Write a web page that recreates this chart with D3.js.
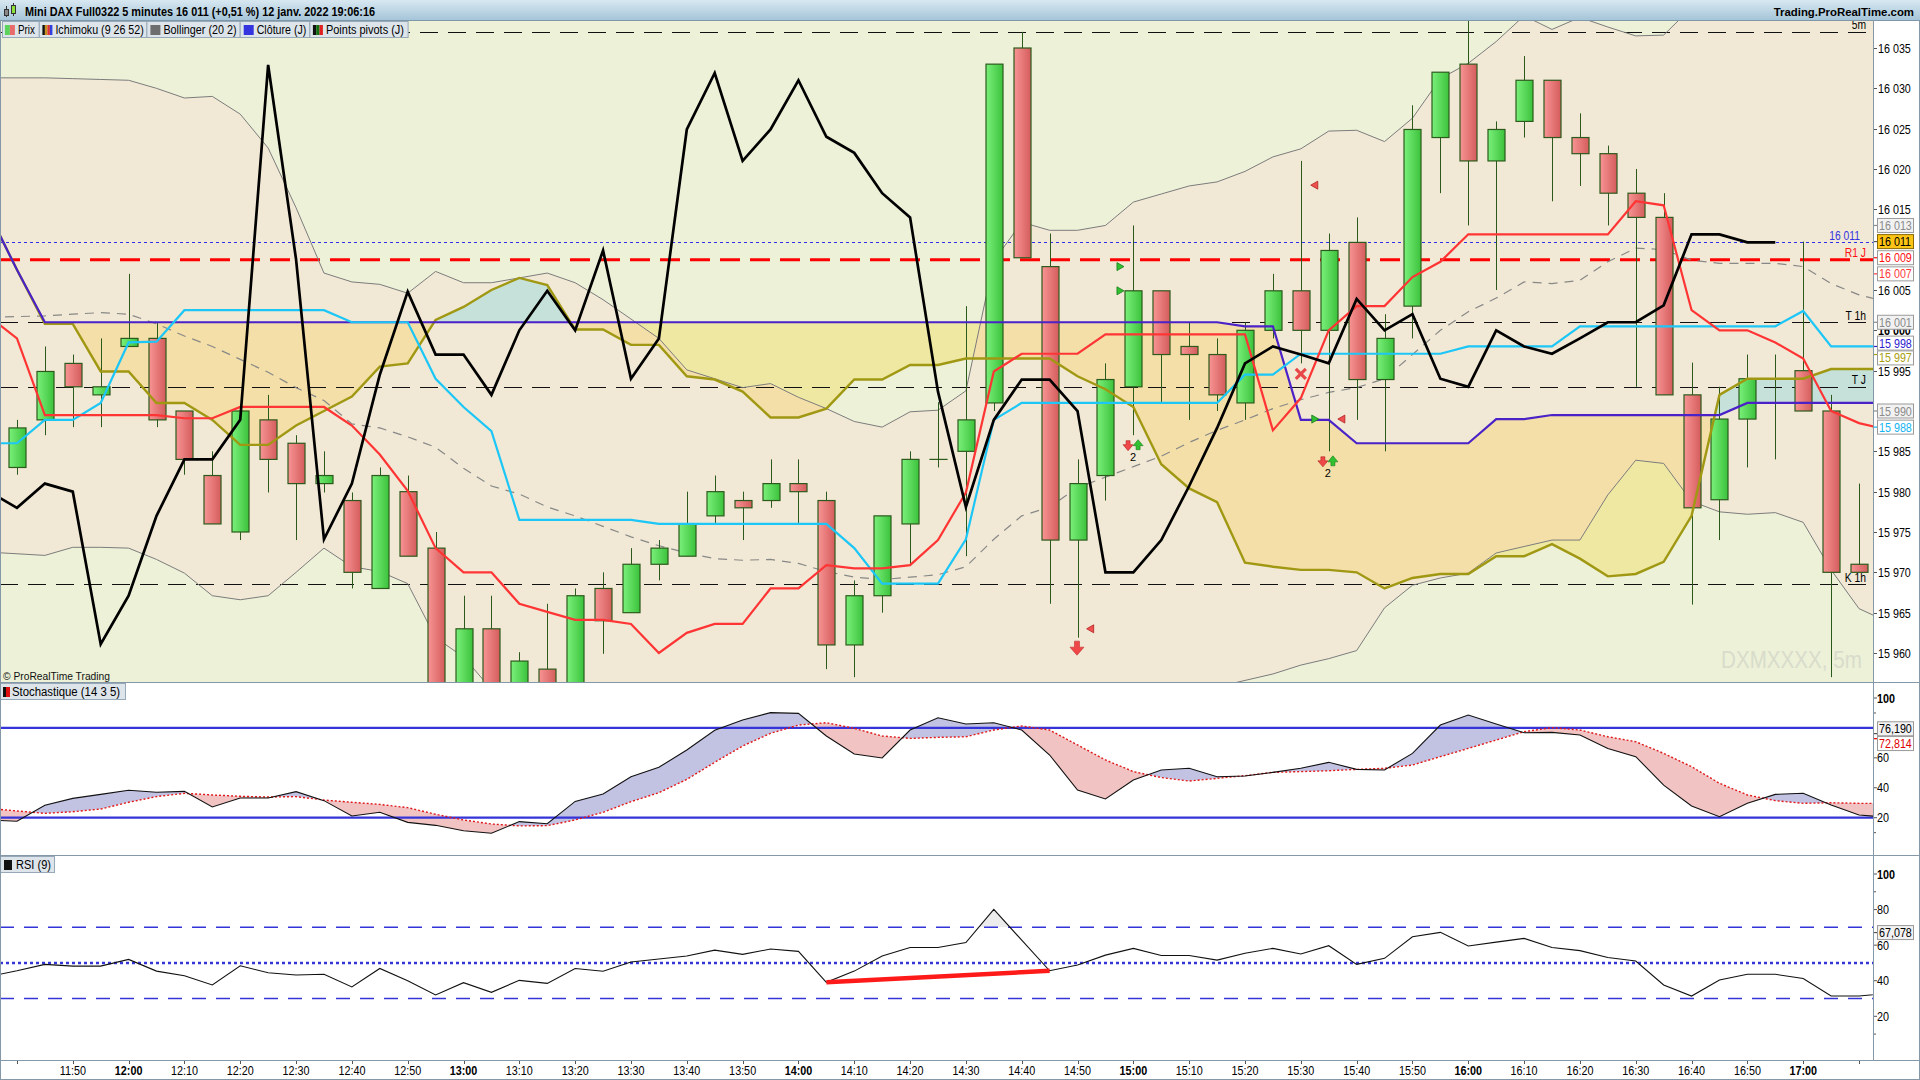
<!DOCTYPE html>
<html><head><meta charset="utf-8">
<script src="https://cdn.jsdelivr.net/npm/d3@7/dist/d3.min.js"></script>
<style>html,body{margin:0;padding:0;background:#fff;overflow:hidden}svg{display:block;font-family:"Liberation Sans",Arial,sans-serif}</style>
</head><body><svg id="chart" width="1920" height="1080"></svg>
<script>
// ---------------- DATA ----------------
const times = ["11:35","11:40","11:45","11:50","11:55","12:00","12:05","12:10","12:15","12:20","12:25","12:30","12:35","12:40","12:45","12:50","12:55",
"13:00","13:05","13:10","13:15","13:20","13:25","13:30","13:35","13:40","13:45","13:50","13:55","14:00","14:05","14:10","14:15","14:20","14:25","14:30","14:35","14:40","14:45","14:50","14:55",
"15:00","15:05","15:10","15:15","15:20","15:25","15:30","15:35","15:40","15:45","15:50","15:55","16:00","16:05","16:10","16:15","16:20","16:25","16:30","16:35","16:40","16:45","16:50","16:55",
"17:00","17:05","17:10","17:15"];
const tickLabels = ["11:50","12:00","12:10","12:20","12:30","12:40","12:50","13:00","13:10","13:20","13:30","13:40","13:50","14:00","14:10","14:20","14:30","14:40","14:50",
"15:00","15:10","15:20","15:30","15:40","15:50","16:00","16:10","16:20","16:30","16:40","16:50","17:00"];

const open = [null,15983.0,15988.9,15995.9,15992.0,15998.0,15999.0,15990.0,15982.0,15975.0,15988.9,15986.0,15981.0,15978.9,15968.0,15980.0,15973.0,
15948.0,15963.0,15952.0,15958.0,15953.0,15968.0,15965.0,15971.0,15972.0,15977.0,15978.9,15978.9,15981.0,15978.9,15961.0,15967.1,15976.0,15984.0,15985.0,15991.0,16035.0,16007.9,15974.0,15982.0,
15993.0,16004.9,15998.0,15997.0,15991.0,16000.0,16004.9,16000.0,16010.9,15993.9,16003.0,16023.9,16033.0,16021.0,16025.9,16031.0,16023.9,16021.9,16017.0,16014.0,15992.0,15979.0,15989.0,15994.0,
15995.0,15990.0,15971.0,null];
const high = [null,15988.9,15998.0,15997.0,15999.0,16007.0,16000.9,15990.0,15985.0,15990.0,15992.0,15987.0,15985.0,15979.9,15983.0,15982.0,15975.0,
15967.1,15967.1,15960.1,15966.1,15968.0,15970.0,15973.0,15974.0,15980.0,15982.0,15980.0,15984.0,15984.0,15980.0,15969.0,15977.0,15985.0,15991.1,16003.0,16033.0,16037.0,16012.0,15984.0,15995.9,
16013.0,16004.9,16001.0,15999.0,16001.0,16007.0,16021.0,16012.0,16014.0,16002.0,16027.9,16032.0,16038.6,16025.9,16034.0,16031.0,16026.9,16022.9,16020.0,16017.0,15996.0,15993.0,15997.0,15997.0,
16011.0,15992.0,15981.0,null];
const low = [null,15982.1,15987.0,15988.0,15988.0,15998.0,15988.0,15982.1,15976.0,15974.0,15979.9,15974.0,15979.9,15968.0,15968.0,15972.0,15945.0,
15946.0,15950.0,15950.0,15951.0,15952.0,15959.9,15965.0,15969.0,15972.0,15976.0,15974.0,15978.0,15976.0,15958.0,15957.0,15965.0,15971.0,15983.0,15972.0,15990.0,16009.0,15966.1,15961.9,15978.9,
15987.0,15991.0,15988.9,15990.0,15988.9,15999.0,15995.9,15985.0,15988.9,15985.0,15999.0,16017.0,16013.0,16005.0,16023.9,16016.0,16017.9,16013.0,15993.0,15992.0,15966.0,15974.0,15983.0,15984.0,
15990.0,15957.0,15970.0,null];
const close = [null,15987.9,15994.9,15993.0,15993.0,15999.0,15988.9,15984.0,15976.0,15990.0,15984.0,15981.0,15982.0,15970.0,15982.0,15972.0,15948.0,
15963.0,15952.0,15959.0,15953.0,15967.1,15964.0,15971.0,15973.0,15976.0,15980.0,15978.0,15981.0,15980.0,15961.0,15967.1,15977.0,15984.0,15984.0,15988.9,16033.0,16009.0,15974.0,15981.0,15993.9,
16004.9,15997.0,15997.0,15992.0,16000.0,16004.9,16000.0,16009.9,15993.9,15999.0,16024.9,16032.0,16021.0,16024.9,16031.0,16023.9,16021.9,16017.0,16014.0,15992.0,15978.0,15989.0,15994.0,15994.0,
15990.0,15970.0,15970.0,null];

const chikou = [15980.0,15978.0,15981.0,15980.0,15961.1,15967.1,15977.0,15984.0,15984.0,15988.9,16032.9,16008.8,15974.1,15981.0,15994.5,16004.8,15997.0,
15997.0,15992.0,16000.0,16004.9,16000.0,16009.9,15994.0,15999.0,16024.9,16031.9,16021.0,16024.9,16031.0,16024.0,16022.0,16017.0,16014.0,15992.4,15978.1,15988.9,15993.9,15993.9,15990.0,15970.0,
15970.0,15974.0,15980.7,15987.9,15995.9,15998.0,15997.0,15995.9,16003.9,16000.0,16002.0,15994.0,15993.0,16000.0,15998.0,15997.1,15999.0,16001.0,16001.0,16003.1,16011.9,16011.9,16010.9,16010.9,
null,null,null,null];
const tenkan = [16001.7,15999.0,15989.5,15989.5,15989.5,15989.5,15989.5,15989.1,15989.1,15990.5,15990.5,15990.5,15990.5,15988.2,15984.6,15980.1,15973.0,
15970.0,15970.0,15966.1,15965.1,15964.1,15964.1,15963.6,15960.0,15962.5,15963.6,15963.6,15968.0,15968.0,15970.9,15970.5,15970.5,15970.9,15974.0,15979.9,15994.9,15997.1,15997.1,15997.1,15999.5,
15999.5,15999.5,15999.5,15999.5,15999.5,15987.6,15991.6,16000.0,16003.0,16003.0,16006.6,16008.5,16011.9,16011.9,16011.9,16011.9,16011.9,16011.9,16016.0,16015.5,16002.5,16000.0,16000.0,15998.5,
15996.5,15990.0,15988.5,15987.7];
const kijun = [15986.0,15986.0,15988.9,15988.9,15991.0,15998.5,15998.6,16002.5,16002.5,16002.5,16002.5,16002.5,16002.5,16001.0,16001.0,16001.0,15994.0,
15990.5,15987.5,15976.5,15976.5,15976.5,15976.5,15976.5,15976.0,15976.0,15976.0,15976.0,15976.0,15976.0,15976.0,15973.0,15968.6,15968.6,15968.6,15974.1,15988.9,15991.0,15991.0,15991.0,15991.0,
15991.0,15991.0,15991.0,15991.0,15994.5,15994.5,15997.1,15997.1,15997.1,15997.1,15997.1,15997.1,15998.0,15998.0,15998.0,15998.0,16000.5,16000.5,16000.5,16000.5,16000.5,16000.5,16000.5,16000.5,
16002.4,15998.0,15998.0,15998.0];
const spanA = [16014.5,16007.5,16000.8,16000.8,15994.9,15994.9,15991.0,15991.0,15988.9,15985.8,15985.8,15988.2,15990.0,15991.8,15995.5,15995.9,16001.3,
16002.9,16005.0,16006.5,16005.6,16000.1,16000.1,15998.2,15998.2,15994.3,15993.9,15992.4,15989.2,15989.2,15990.3,15993.9,15993.9,15995.7,15995.7,15996.5,15996.5,15996.5,15996.5,15994.3,15992.7,
15990.5,15983.4,15980.4,15978.7,15971.2,15970.7,15970.3,15970.3,15970.0,15968.0,15969.3,15969.8,15969.8,15972.0,15972.0,15973.5,15971.7,15969.5,15969.8,15971.3,15977.0,15992.0,15994.0,15994.0,
15994.0,15995.2,15995.2,15995.2];
const spanB = [16014.5,16007.5,
16001.0,16001.0,16001.0,16001.0,16001.0,16001.0,16001.0,16001.0,16001.0,16001.0,
16001.0,16001.0,16001.0,16001.0,16001.0,16001.0,16001.0,16001.0,16001.0,16001.0,
16001.0,16001.0,16001.0,16001.0,16001.0,16001.0,16001.0,16001.0,16001.0,16001.0,
16001.0,16001.0,16001.0,16001.0,16001.0,16001.0,16001.0,16001.0,16001.0,16001.0,
16001.0,16001.0,16001.0,
16000.5,16000.5,15988.9,15988.9,15986.0,15986.0,15986.0,15986.0,15986.0,15989.0,15989.0,
15989.5,15989.5,15989.5,15989.5,15989.5,15989.5,15989.5,15991.0,15991.0,15991.0,15991.0,15991.0,15991.0];
const bbUp = [16031.3,16031.3,16031.3,16031.2,16031.1,16031.0,16030.0,16028.8,16029.0,16026.8,16022.6,16015.2,16007.1,16006.0,16005.7,16004.6,16007.3,
16005.9,16005.9,16006.5,16007.1,16005.9,16003.8,16001.4,15999.0,15995.1,15994.0,15992.9,15993.4,15991.7,15990.3,15988.7,15988.0,15989.9,15990.1,15992.5,16008.6,16013.4,16012.4,16012.4,16013.0,
16015.9,16016.9,16017.9,16018.4,16019.7,16021.5,16022.5,16024.7,16024.8,16023.4,16026.3,16031.2,16033.1,16035.8,16039.0,16037.3,16038.8,16037.6,16036.5,16036.6,16040.0,16043.0,16045.0,16046.0,
16046.0,16047.0,16048.0,16048.5];
const bbMid = [16001.6,16001.7,16001.8,16002.0,16002.2,16002.0,16000.8,15999.3,15998.0,15996.4,15994.8,15992.9,15991.3,15988.4,15987.9,15986.8,15985.5,
15982.9,15980.7,15979.7,15978.1,15977.0,15975.7,15974.4,15973.3,15972.4,15971.7,15971.5,15971.6,15971.1,15970.1,15969.4,15969.1,15969.4,15969.7,15970.7,15974.1,15977.0,15978.1,15980.5,15981.8,
15983.1,15984.4,15986.1,15987.6,15988.9,15990.3,15991.4,15992.3,15992.9,15994.0,15997.0,16000.0,16002.3,16004.0,16006.0,16005.8,16006.2,16008.5,16010.2,16010.0,16008.7,16008.3,16008.3,16008.3,
16007.9,16005.8,16004.4,16003.5];
const bbLow = [15972.5,15972.3,15972.1,15973.1,15973.1,15973.0,15971.6,15969.9,15967.1,15966.6,15967.1,15970.0,15973.0,15970.7,15970.1,15968.6,15961.9,
15959.5,15955.5,15952.9,15949.1,15948.1,15947.6,15947.4,15947.6,15949.7,15949.4,15950.1,15949.8,15950.5,15949.9,15950.1,15950.2,15948.9,15949.3,15948.9,15939.6,15940.6,15943.8,15948.6,15950.6,
15950.3,15951.9,15954.3,15955.8,15956.6,15957.4,15958.5,15959.3,15960.3,15965.6,15968.4,15969.3,15969.9,15972.4,15973.2,15974.0,15974.0,15979.6,15983.9,15983.5,15978.8,15977.5,15977.2,15977.4,
15976.2,15970.3,15965.5,15963.9];

const stochK = [18.5,17.6,28.3,32.9,35.6,38.3,37.0,37.6,27.2,33.2,33.2,37.4,31.4,21.1,23.6,16.9,14.9,11.3,9.6,17.4,16.0,30.9,35.8,47.4,53.7,65.2,78.4,85.3,90.2,89.7,
74.6,62.6,59.9,78.6,86.8,82.6,83.5,78.6,61.9,38.5,32.5,45.2,51.9,53.0,47.4,47.9,50.3,53.0,57.0,52.3,51.9,63.0,81.9,88.6,82.6,76.8,77.0,75.3,66.3,60.8,41.8,27.8,20.7,29.6,35.6,36.3,28.5,21.8,20.3];
const stochD = [26.2,24.5,22.9,24.0,25.8,30.3,34.1,36.3,35.2,34.3,33.8,34.1,31.8,30.3,28.9,26.7,22.3,18.5,15.8,14.5,14.7,18.5,23.6,30.7,36.7,45.6,57.0,67.9,76.4,81.9,
83.5,79.7,74.6,73.0,73.7,74.1,78.6,81.3,78.6,68.6,58.6,50.8,46.8,44.5,46.3,48.1,50.3,50.8,51.4,52.3,53.0,55.2,60.8,66.3,71.9,77.5,80.2,78.6,74.1,70.8,63.0,54.1,43.0,35.2,31.4,29.6,30.0,29.6,29.6];
const rsi = [42.4,45.6,49.2,48.2,48.2,52.0,45.4,42.8,37.6,48.4,44.5,43.2,43.6,36.5,46.9,40.0,32.0,38.9,33.5,40.2,38.5,46.9,45.3,50.5,52.2,53.9,57.2,54.8,57.8,56.5,
39.1,45.4,53.9,58.7,58.7,61.5,80.1,62.8,45.6,48.8,54.4,58.2,54.2,54.2,51.6,55.4,58.2,55.0,59.7,49.2,52.6,64.7,67.2,59.5,61.7,63.8,58.7,56.9,53.1,51.1,37.6,31.4,40.4,43.6,43.6,41.3,31.4,31.4,32.9];
const rsiDivergence = [[30,39.1],[38,45.6]];

const levelPrices = [16037, 16001, 15993, 15968.5];
const levelLabels = ["5m", "T 1h", "T J", "K 1h"];
const pivotR1 = 16008.75, pivotLabel = "R1 J";
const lastPrice = 16011, lastPriceLabel = "16 011";
const priceTicks = [16035,16030,16025,16020,16015,16005,16000,15995,15985,15980,15975,15970,15965,15960];
const boxValues = [16013,16011,16009,16007,16001,15998,15997,15990,15988];
const stochTicks = [100,60,40,20];
const rsiTicks = [100,80,60,40,20];
const stochBoxValues = [76.190, 72.814];
const rsiBoxValues = [67.078];
// markers: [type, bar position, price]
const markers = [["triR",40.52,16007.9],["triR",40.52,16004.9],["pair",40.99,15985.7],["triL",47.5,16018.0],["cross",47.0,15994.6],
["triR",47.5,15989.0],["triL",48.47,15989.0],["pair",47.97,15983.7],["triL",39.47,15963.0],["bigDown",38.98,15960.6]];

// ---------------- LAYOUT ----------------
const W = 1920, H = 1080, PR = 1873;
const MT = 21, MB = 682, ST = 683, SB = 855, RT = 856, RB = 1060;
const x = d3.scaleLinear().domain([5, 65]).range([128.6, 1803.2]);
const yP = d3.scaleLinear().domain([16035, 15960]).range([48, 653]);
const yS = d3.scaleLinear().domain([20, 100]).range([817.7, 698]);
const yR = d3.scaleLinear().domain([20, 100]).range([1016.3, 874]);
const idx = d3.range(times.length);
const fmtP = v => d3.format(",.0f")(v).replace(",", " ");
const fmtV = v => d3.format(".3f")(v).replace(".", ",");

const svg = d3.select("#chart");
const defs = svg.append("defs");
function grad(id, stops, vertical) {
  const g = defs.append("linearGradient").attr("id", id).attr("x1", 0).attr("y1", 0).attr("x2", vertical ? 0 : 1).attr("y2", vertical ? 1 : 0);
  stops.forEach(([o, c]) => g.append("stop").attr("offset", o).attr("stop-color", c));
}
grad("gUp", [[0, "#7af07a"], [1, "#3cc23c"]]);
grad("gDn", [[0, "#f89494"], [1, "#d45c5c"]]);
grad("gHead", [[0, "#d8e8f1"], [1, "#a4c4d8"]], true);
function clipRect(id, x0, y0, w, h) { defs.append("clipPath").attr("id", id).append("rect").attr("x", x0).attr("y", y0).attr("width", w).attr("height", h); }
function clipPaths(id, ds) { const c = defs.append("clipPath").attr("id", id); ds.forEach(d => c.append("path").attr("d", d)); }
clipRect("cMain", 0, MT, PR, MB - MT);
clipRect("cSt", 0, ST, PR, SB - ST);
clipRect("cRsi", 0, RT, PR, RB - RT);
clipRect("cRsiHi", 0, RT, PR, yR(70) - RT);

function T(g, x0, y0, s, o = {}) {
  const t = g.append("text").attr("transform", `translate(${x0},${y0}) scale(${o.sx || 1},1)`)
    .attr("font-size", o.fs || 12).attr("fill", o.fill || "#000").attr("font-weight", o.fw || "normal")
    .attr("text-anchor", o.anchor || "start").text(s);
  if (o.tl) t.attr("textLength", o.tl / (o.sx || 1)).attr("lengthAdjust", "spacingAndGlyphs");
  return t;
}
svg.append("rect").attr("width", W).attr("height", H).attr("fill", "#fff");

// ---------------- MAIN PANEL ----------------
const main = svg.append("g").attr("clip-path", "url(#cMain)");
main.append("rect").attr("x", 0).attr("y", MT).attr("width", PR).attr("height", MB - MT).attr("fill", "#ecf1d8");
const aBB = d3.area().x(i => x(i)).y0(i => yP(bbUp[i])).y1(i => yP(bbLow[i]));
main.append("path").attr("d", aBB(idx)).attr("fill", "#f1e9d5");
const aCloud = d3.area().x(i => x(i)).y0(i => yP(spanA[i])).y1(i => yP(spanB[i]));
clipPaths("cAboveB", [d3.area().x(i => x(i)).y0(0).y1(i => yP(spanB[i]))(idx)]);
clipPaths("cBelowB", [d3.area().x(i => x(i)).y0(i => yP(spanB[i])).y1(H)(idx)]);
clipPaths("cInBB", [aBB(idx)]);
clipPaths("cOutBB", [d3.area().x(i => x(i)).y0(0).y1(i => yP(bbUp[i]))(idx), d3.area().x(i => x(i)).y0(i => yP(bbLow[i])).y1(H)(idx)]);
main.append("g").attr("clip-path", "url(#cAboveB)").append("path").attr("d", aCloud(idx)).attr("fill", "#c5e1d9");
main.append("g").attr("clip-path", "url(#cBelowB)").append("g").attr("clip-path", "url(#cInBB)").append("path").attr("d", aCloud(idx)).attr("fill", "#f3dfa7");
main.append("g").attr("clip-path", "url(#cBelowB)").append("g").attr("clip-path", "url(#cOutBB)").append("path").attr("d", aCloud(idx)).attr("fill", "#eee8a2");

// horizontal levels
levelPrices.forEach(p => main.append("line").attr("x1", 0).attr("x2", PR).attr("y1", Math.round(yP(p)) + 0.5).attr("y2", Math.round(yP(p)) + 0.5)
  .attr("stroke", "#111").attr("stroke-width", 1).attr("stroke-dasharray", "18,10"));
main.append("line").attr("x1", 0).attr("x2", PR).attr("y1", yP(pivotR1)).attr("y2", yP(pivotR1)).attr("stroke", "#ff0000").attr("stroke-width", 3).attr("stroke-dasharray", "20,10");
main.append("line").attr("x1", 0).attr("x2", PR).attr("y1", Math.round(yP(lastPrice)) + 0.5).attr("y2", Math.round(yP(lastPrice)) + 0.5).attr("stroke", "#3030e8").attr("stroke-width", 1).attr("stroke-dasharray", "3,3");

// bollinger
const ln = (arr, sc) => d3.line().defined(i => arr[i] != null).x(i => x(i)).y(i => sc(arr[i]));
main.append("path").attr("d", ln(bbUp, yP)(idx)).attr("fill", "none").attr("stroke", "#7c7c7c").attr("stroke-width", 1);
main.append("path").attr("d", ln(bbLow, yP)(idx)).attr("fill", "none").attr("stroke", "#7c7c7c").attr("stroke-width", 1);
main.append("path").attr("d", ln(bbMid, yP)(idx)).attr("fill", "none").attr("stroke", "#888").attr("stroke-width", 1.2).attr("stroke-dasharray", "9,7");

// candles
const cg = main.append("g");
idx.filter(i => open[i] != null).forEach(i => {
  const cx = Math.round(x(i)) + 0.5;
  const up = close[i] >= open[i];
  cg.append("line").attr("x1", cx).attr("x2", cx).attr("y1", yP(high[i])).attr("y2", yP(low[i])).attr("stroke", "#2c5a1c").attr("stroke-width", 1);
  const top = yP(Math.max(open[i], close[i])), bot = yP(Math.min(open[i], close[i]));
  cg.append("rect").attr("x", cx - 8.5).attr("y", top).attr("width", 17).attr("height", Math.max(bot - top, 0.01))
    .attr("fill", up ? "url(#gUp)" : "url(#gDn)").attr("stroke", "#2c5a1c").attr("stroke-width", 1.2);
});

// ichimoku lines
main.append("path").attr("d", ln(spanA, yP)(idx)).attr("fill", "none").attr("stroke", "#a09812").attr("stroke-width", 2.4);
main.append("path").attr("d", ln(spanB, yP)(idx)).attr("fill", "none").attr("stroke", "#4a22c8").attr("stroke-width", 2.2);
main.append("path").attr("d", ln(kijun, yP)(idx)).attr("fill", "none").attr("stroke", "#1cc6f6").attr("stroke-width", 2.2);
main.append("path").attr("d", ln(tenkan, yP)(idx)).attr("fill", "none").attr("stroke", "#ff3434").attr("stroke-width", 2.2);
main.append("path").attr("d", ln(chikou, yP)(idx)).attr("fill", "none").attr("stroke", "#000").attr("stroke-width", 2.7).attr("stroke-linejoin", "miter");

// markers
const mg = main.append("g");
markers.forEach(([type, k, p]) => {
  const mx = x(k), my = yP(p);
  if (type === "triR") mg.append("path").attr("d", `M${mx - 3},${my - 4}L${mx + 4},${my}L${mx - 3},${my + 4}Z`).attr("fill", "#30c030").attr("stroke", "#1a7a1a").attr("stroke-width", 0.8);
  if (type === "triL") mg.append("path").attr("d", `M${mx + 3},${my - 4}L${mx - 4},${my}L${mx + 3},${my + 4}Z`).attr("fill", "#f05050").attr("stroke", "#b02020").attr("stroke-width", 0.8);
  if (type === "cross") mg.append("path").attr("d", `M${mx - 5},${my - 5}L${mx + 5},${my + 5}M${mx + 5},${my - 5}L${mx - 5},${my + 5}`).attr("stroke", "#e84848").attr("stroke-width", 3.2);
  if (type === "pair") {
    const a = mx - 5, b = mx + 5;
    mg.append("path").attr("d", `M${a - 2},${my - 5}h4v4h3l-5,6l-5,-6h3z`).attr("fill", "#f04848").attr("stroke", "#b02020").attr("stroke-width", 0.6);
    mg.append("path").attr("d", `M${b - 2},${my + 4}h4v-4h3l-5,-6l-5,6h3z`).attr("fill", "#30c030").attr("stroke", "#1a7a1a").attr("stroke-width", 0.6);
    T(mg, mx, my + 15, "2", { fs: 11, anchor: "middle" });
  }
  if (type === "bigDown") mg.append("path").attr("d", `M${mx - 2.5},${my - 7}h5v6h4.5l-7,8l-7,-8h4.5z`).attr("fill", "#f04848").attr("stroke", "#c03030").attr("stroke-width", 0.6);
});

// level labels
levelPrices.forEach((p, i) => T(main, 1866, yP(p) - 2.5, levelLabels[i], { anchor: "end", sx: 0.86 }));
T(main, 1866, yP(pivotR1) - 2.5, pivotLabel, { anchor: "end", fill: "#ff1010", sx: 0.86 });
T(main, 1860, yP(lastPrice) - 2, lastPriceLabel, { anchor: "end", fill: "#3535e0", sx: 0.86 });
T(main, 1721, 668, "DXMXXXX, 5m", { fs: 23, fill: "#d9dccb", tl: 141 });
T(main, 3, 680, "© ProRealTime Trading", { fs: 11, fill: "#111", tl: 107 });

// legend boxes
const legend = [["Prix", 2, 38.8, 17.9, 16.9, ["#5cd45c", "#e86a6a"]], ["Ichimoku (9 26 52)", 38.8, 146.4, 55.4, 88.4, ["#111", "#c89020", "#e03030", "#3040e0"]],
["Bollinger (20 2)", 146.4, 239.7, 163.4, 73.2, ["#6e6e6e"]], ["Clôture (J)", 239.7, 309.4, 256.7, 49.6, ["#3535e0"]], ["Points pivots (J)", 309.4, 407.6, 325.9, 78.1, ["#111", "#107010", "#e02020"]]];
legend.forEach(([lab, x0, x1, tx, tw, cols]) => {
  svg.append("rect").attr("x", x0 + 0.5).attr("y", 21.5).attr("width", x1 - x0).attr("height", 16).attr("fill", "#dde5eb").attr("stroke", "#97a9b8");
  const iw = 10 / cols.length, ix = tx - 13;
  cols.forEach((c, j) => svg.append("rect").attr("x", ix + j * iw).attr("y", 25).attr("width", iw).attr("height", 10).attr("fill", c));
  T(svg, tx, 34, lab, { fs: 12, tl: tw });
});

// ---------------- STOCHASTIC ----------------
const st = svg.append("g").attr("clip-path", "url(#cSt)");
const aKD = d3.area().x(i => x(i)).y0(i => yS(stochK[i])).y1(i => yS(stochD[i]));
clipPaths("cAboveD", [d3.area().x(i => x(i)).y0(0).y1(i => yS(stochD[i]))(idx)]);
clipPaths("cBelowD", [d3.area().x(i => x(i)).y0(i => yS(stochD[i])).y1(H)(idx)]);
st.append("g").attr("clip-path", "url(#cAboveD)").append("path").attr("d", aKD(idx)).attr("fill", "#c2c2e3");
st.append("g").attr("clip-path", "url(#cBelowD)").append("path").attr("d", aKD(idx)).attr("fill", "#f2c3c3");
[80, 20].forEach(v => st.append("line").attr("x1", 0).attr("x2", PR).attr("y1", yS(v)).attr("y2", yS(v)).attr("stroke", "#3434d8").attr("stroke-width", 2.2));
st.append("path").attr("d", ln(stochD, yS)(idx)).attr("fill", "none").attr("stroke", "#e01818").attr("stroke-width", 1.4).attr("stroke-dasharray", "2,2");
st.append("path").attr("d", ln(stochK, yS)(idx)).attr("fill", "none").attr("stroke", "#111").attr("stroke-width", 1.1);

// ---------------- RSI ----------------
const rg = svg.append("g").attr("clip-path", "url(#cRsi)");
rg.append("g").attr("clip-path", "url(#cRsiHi)").append("path")
  .attr("d", d3.area().x(i => x(i)).y0(yR(70)).y1(i => yR(rsi[i]))(idx)).attr("fill", "#ececec");
[70, 30].forEach(v => rg.append("line").attr("x1", 0).attr("x2", PR).attr("y1", yR(v)).attr("y2", yR(v)).attr("stroke", "#3434d8").attr("stroke-width", 1.5).attr("stroke-dasharray", "14,10"));
rg.append("line").attr("x1", 0).attr("x2", PR).attr("y1", yR(50)).attr("y2", yR(50)).attr("stroke", "#3434d8").attr("stroke-width", 2.6).attr("stroke-dasharray", "3,3");
rg.append("path").attr("d", ln(rsi, yR)(idx)).attr("fill", "none").attr("stroke", "#111").attr("stroke-width", 1.1);
rg.append("path").attr("d", d3.line().x(d => x(d[0])).y(d => yR(d[1]))(rsiDivergence)).attr("stroke", "#ff1a1a").attr("stroke-width", 4.5).attr("fill", "none");

// panel titles
svg.append("rect").attr("x", 0.5).attr("y", ST + 0.5).attr("width", 125).attr("height", 16).attr("fill", "#dde5eb").attr("stroke", "#97a9b8");
svg.append("rect").attr("x", 3).attr("y", ST + 4).attr("width", 3).attr("height", 10).attr("fill", "#111");
svg.append("rect").attr("x", 6).attr("y", ST + 4).attr("width", 4).attr("height", 10).attr("fill", "#e01010");
T(svg, 12, ST + 13, "Stochastique (14 3 5)", { fs: 12, tl: 108 });
svg.append("rect").attr("x", 0.5).attr("y", RT + 0.5).attr("width", 54).attr("height", 16).attr("fill", "#dde5eb").attr("stroke", "#97a9b8");
svg.append("rect").attr("x", 4).attr("y", RT + 4).attr("width", 8).attr("height", 10).attr("fill", "#111");
T(svg, 16, RT + 13, "RSI (9)", { fs: 12, tl: 35 });

// ---------------- AXES ----------------
const ax = svg.append("g");
ax.append("rect").attr("x", PR).attr("y", MT).attr("width", W - PR).attr("height", RB - MT).attr("fill", "#fff");
priceTicks.forEach(v => {
  const yy = Math.round(yP(v)) + 0.5;
  ax.append("line").attr("x1", PR).attr("x2", PR + 4).attr("y1", yy).attr("y2", yy).attr("stroke", "#555");
  T(ax, PR + 5, yy + 4.5, fmtP(v), { fs: 12.5, sx: 0.86, fw: v === 16000 ? "bold" : "normal" });
});
function spread(ys, gap) {
  const o = ys.map((y, i) => ({ y, i })).sort((a, b) => a.y - b.y);
  for (let it = 0; it < 60; it++) for (let j = 1; j < o.length; j++) { const d = o[j].y - o[j - 1].y; if (d < gap) { const s = (gap - d) / 2; o[j].y += s; o[j - 1].y -= s; } }
  const r = []; o.forEach(e => r[e.i] = e.y); return r;
}
const boxStyle = [["#8a8a8a", "#f2f2f2"], ["#000", "#fcc414"], ["#ff1010", "#fff"], ["#ff3a3a", "#fff"], ["#8a8a8a", "#f2f2f2"], ["#2a20d0", "#fff"], ["#a8a010", "#fff"], ["#8a8a8a", "#f2f2f2"], ["#12b4f0", "#fff"]];
function boxes(vals, sc, fmt, styles) {
  const ys = spread(vals.map(v => sc(v)), 14.8);
  vals.forEach((v, i) => {
    const [tc, bg] = styles[i];
    ax.append("line").attr("x1", PR).attr("x2", PR + 4).attr("y1", sc(v)).attr("y2", sc(v)).attr("stroke", tc === "#000" ? "#555" : tc).attr("stroke-width", 1.2);
    ax.append("rect").attr("x", 1877.5).attr("y", ys[i] - 7).attr("width", 36).attr("height", 14).attr("fill", bg).attr("stroke", tc === "#000" && bg !== "#fff" && bg !== "#f2f2f2" ? "#8a6a00" : "#9a9a9a");
    T(ax, 1879, ys[i] + 4.5, fmt(v), { fs: 12.5, sx: 0.86, fill: tc });
  });
}
boxes(boxValues, yP, fmtP, boxStyle);
stochTicks.forEach(v => { ax.append("line").attr("x1", PR).attr("x2", PR + 4).attr("y1", yS(v)).attr("y2", yS(v)).attr("stroke", "#555"); T(ax, 1877, yS(v) + 4.5, String(v), { fs: 12, sx: 0.9, fw: v === 100 ? "bold" : "normal" }); });
[90, 10].forEach(v => ax.append("line").attr("x1", PR).attr("x2", PR + 3).attr("y1", yS(v)).attr("y2", yS(v)).attr("stroke", "#555"));
boxes(stochBoxValues, yS, fmtV, [["#000", "#f2f2f2"], ["#e00000", "#fff"]]);
rsiTicks.forEach(v => { ax.append("line").attr("x1", PR).attr("x2", PR + 4).attr("y1", yR(v)).attr("y2", yR(v)).attr("stroke", "#555"); T(ax, 1877, yR(v) + 4.5, String(v), { fs: 12, sx: 0.9, fw: v === 100 ? "bold" : "normal" }); });
[90, 10].forEach(v => ax.append("line").attr("x1", PR).attr("x2", PR + 3).attr("y1", yR(v)).attr("y2", yR(v)).attr("stroke", "#555"));
boxes(rsiBoxValues, yR, fmtV, [["#000", "#f2f2f2"]]);

// time axis
times.forEach((t, i) => { if (t.endsWith("0")) ax.append("line").attr("x1", Math.round(x(i)) + 0.5).attr("x2", Math.round(x(i)) + 0.5).attr("y1", RB).attr("y2", RB + 4).attr("stroke", "#555"); });
tickLabels.forEach(t => { const i = times.indexOf(t); T(ax, x(i), 1075, t, { fs: 12, sx: 0.9, anchor: "middle", fw: t.endsWith(":00") ? "bold" : "normal" }); });

// borders
const bc = "#8598a8";
[MB + 0.5, SB + 0.5, RB + 0.5].forEach(yy => svg.append("line").attr("x1", 0).attr("x2", W).attr("y1", yy).attr("y2", yy).attr("stroke", bc));
svg.append("line").attr("x1", PR + 0.5).attr("x2", PR + 0.5).attr("y1", MT).attr("y2", RB).attr("stroke", bc);
svg.append("rect").attr("x", 0.5).attr("y", 0.5).attr("width", W - 1).attr("height", H - 1).attr("fill", "none").attr("stroke", bc);

// header
svg.append("rect").attr("x", 0).attr("y", 0).attr("width", W).attr("height", 20.5).attr("fill", "url(#gHead)");
svg.append("line").attr("x1", 0).attr("x2", W).attr("y1", 20.5).attr("y2", 20.5).attr("stroke", "#7f97a8");
svg.append("line").attr("x1", 6.5).attr("x2", 6.5).attr("y1", 6).attr("y2", 17).attr("stroke", "#333");
svg.append("rect").attr("x", 4.5).attr("y", 9.5).attr("width", 4).attr("height", 6).attr("fill", "#888").attr("stroke", "#333");
svg.append("line").attr("x1", 13.5).attr("x2", 13.5).attr("y1", 3).attr("y2", 16).attr("stroke", "#333");
svg.append("rect").attr("x", 11.5).attr("y", 5.5).attr("width", 4).attr("height", 8).attr("fill", "#8ee03a").attr("stroke", "#333");
T(svg, 25, 16, "Mini DAX Full0322 5 minutes 16 011 (+0,51 %) 12 janv. 2022 19:06:16", { fs: 12.5, fw: "bold", tl: 350 });
T(svg, 1914, 16, "Trading.ProRealTime.com", { fs: 11.4, fw: "bold", anchor: "end" });
</script></body></html>
